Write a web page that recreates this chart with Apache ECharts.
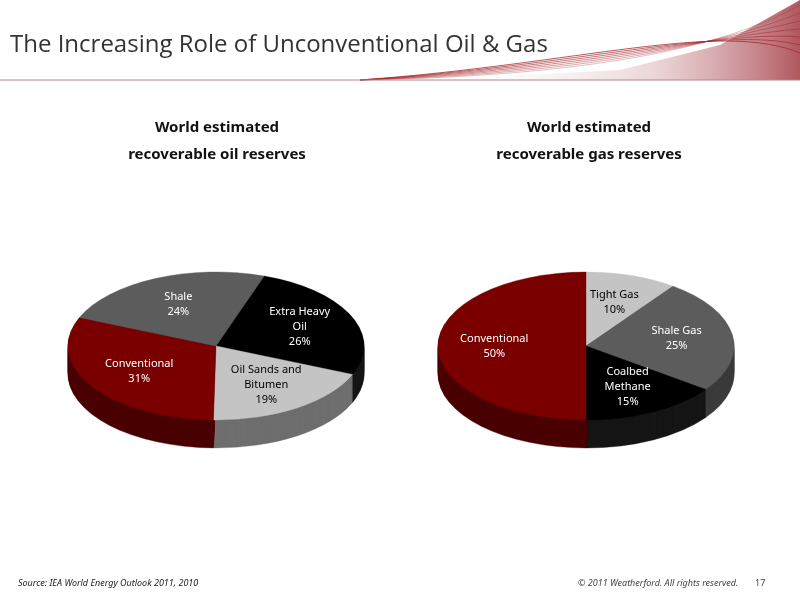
<!DOCTYPE html>
<html><head><meta charset="utf-8">
<script src="https://cdn.jsdelivr.net/npm/echarts@6/dist/echarts.min.js"></script>
<style>html,body{margin:0;background:#fff}#main{width:800px;height:600px}</style>
</head><body><div id="main"></div>
<script>
// data
var oilNames = ['Extra Heavy\nOil', 'Oil Sands and\nBitumen', 'Conventional', 'Shale'];
var oilValues = [26, 19, 31, 24];
var oilColors = ['#000000', '#c4c4c4', '#7a0000', '#5c5c5c'];
var oilSides = ['#151515', '#6e6e6e', '#4a0000', '#3a3a3a'];
var gasNames = ['Tight Gas', 'Shale Gas', 'Coalbed\nMethane', 'Conventional'];
var gasValues = [10, 25, 15, 50];
var gasColors = ['#c4c4c4', '#5c5c5c', '#000000', '#7a0000'];
var gasSides = ['#6e6e6e', '#3a3a3a', '#151515', '#4a0000'];

var chart = echarts.init(document.getElementById('main'));
var RX = 148, RY = 74, DEPTH = 28;

// angles go clockwise from a start angle (degrees, counter-clockwise from east)
function slices(values, start) {
    var total = values.reduce(function (a, b) { return a + b; }, 0);
    var out = [], a = start;
    values.forEach(function (v) {
        var span = v / total * 360;
        out.push({ from: a, to: a - span });
        a -= span;
    });
    return out;
}

function pieSeries(names, values, colors, sides, cx, cy, start) {
    var sl = slices(values, start);
    var data = values.map(function (v, i) { return { value: v, name: names[i] }; });
    function sector(i, y, color) {
        return {
            type: 'sector',
            shape: { cx: cx, cy: y, r0: 0, r: RX,
                startAngle: -sl[i].from * Math.PI / 180,
                endAngle: -sl[i].to * Math.PI / 180, clockwise: true },
            scaleY: RY / RX, originX: cx, originY: y,
            style: { fill: color, stroke: color, lineWidth: 0.5 }
        };
    }
    var side = {
        type: 'custom', coordinateSystem: 'none', z: 1, data: data, silent: true,
        renderItem: function (params) {
            var i = params.dataIndex, ch = [];
            for (var d = DEPTH; d > 0; d -= 1) ch.push(sector(i, cy + d, sides[i]));
            return { type: 'group', children: ch };
        }
    };
    var top = {
        type: 'custom', coordinateSystem: 'none', z: 2, data: data, silent: true,
        renderItem: function (params) {
            var i = params.dataIndex;
            var mid = (sl[i].from + sl[i].to) / 2 * Math.PI / 180;
            var k = 0.62;
            var light = colors[i] === '#c4c4c4';
            return { type: 'group', children: [
                sector(i, cy, colors[i]),
                { type: 'text', z2: 10,
                  style: { x: cx + Math.cos(mid) * RX * k, y: cy - Math.sin(mid) * RY * k,
                      text: names[i] + '\n' + values[i] + '%', align: 'center', verticalAlign: 'middle',
                      fill: light ? '#000' : '#fff', font: '11px "Noto Sans"', lineHeight: 15 } }
            ] };
        }
    };
    return [side, top];
}

function txt(x, y, s, font, color, align) {
    return { type: 'text', style: { x: x, y: y, text: s, font: font, fill: color, align: align || 'left', verticalAlign: 'middle' } };
}

var swoosh = [{
    type: 'polygon', z: -1,
    shape: { points: [[430, 80], [620, 70], [720, 45], [800, 0], [800, 80]] },
    style: { fill: new echarts.graphic.LinearGradient(0, 0, 1, 0, [
        { offset: 0, color: 'rgba(255,255,255,0)' }, { offset: 0.6, color: 'rgba(200,140,145,0.35)' }, { offset: 1, color: 'rgba(150,30,40,0.75)' }]) }
}];
for (var j = 0; j < 7; j++) {
    swoosh.push({ type: 'bezierCurve', shape: { x1: 360, y1: 80, cpx1: 580, cpy1: 76 - j * 2, cpx2: 720, cpy2: 50 - j * 5, x2: 800, y2: 5 + j * 8 },
        style: { stroke: '#a4262c', lineWidth: 1, opacity: 0.3 + j * 0.08, fill: null } });
}

chart.setOption({
    animation: false,
    graphic: swoosh.concat([
        { type: 'line', shape: { x1: 0, y1: 80, x2: 800, y2: 80 }, style: { stroke: '#b0888a', lineWidth: 1 } },
        txt(10, 45, 'The Increasing Role of Unconventional Oil & Gas', '24px "Open Sans"', '#333'),
        txt(217, 128, 'World estimated', 'bold 15px "Noto Sans"', '#111', 'center'),
        txt(217, 155, 'recoverable oil reserves', 'bold 15px "Noto Sans"', '#111', 'center'),
        txt(589, 128, 'World estimated', 'bold 15px "Noto Sans"', '#111', 'center'),
        txt(589, 155, 'recoverable gas reserves', 'bold 15px "Noto Sans"', '#111', 'center'),
        txt(18, 583, 'Source: IEA World Energy Outlook 2011, 2010', 'italic 9px "Noto Sans"', '#222'),
        txt(578, 583, '\u00a9 2011 Weatherford. All rights reserved.', 'italic 9px "Noto Sans"', '#444'),
        txt(755, 583, '17', '9px "Noto Sans"', '#444')
    ]),
    series: pieSeries(oilNames, oilValues, oilColors, oilSides, 216, 346, 71)
        .concat(pieSeries(gasNames, gasValues, gasColors, gasSides, 586, 346, 90))
});
</script></body></html>
